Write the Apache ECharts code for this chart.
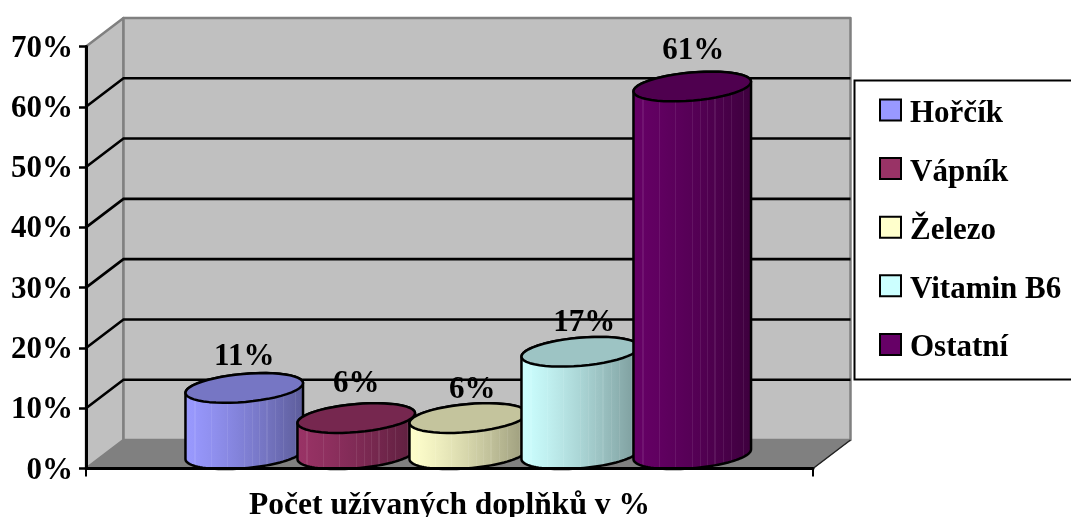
<!DOCTYPE html>
<html>
<head>
<meta charset="utf-8">
<style>html,body{margin:0;padding:0;background:#fff}#chart{width:1071px;height:517px}</style>
<script src="https://cdn.jsdelivr.net/npm/echarts@6/dist/echarts.min.js"></script>
</head>
<body>
<div id="chart"></div>
<script>
// Supplement usage, drawn as cylinders in a pseudo-3D box
const groupLabel = ['Počet užívaných doplňků v %'];
const names = ['Hořčík', 'Vápník', 'Železo', 'Vitamin B6', 'Ostatní'];
const values = [11, 6, 6, 17, 61];
const colors = ['#9999FF', '#993366', '#FFFFCC', '#CCFFFF', '#660066'];
const gridTicks = [10, 20, 30, 40, 50, 60];
const labelLift = [31, 34, 28, 29, 36];
const labelShift = [0, 0, 4, 4, 1];

const FONT = '"Liberation Serif", "Times New Roman", serif';
const DEPTH_X = 37.5, DEPTH_Y = -28.5;      // box depth offset
const STEP = 112, RX = 59, RY = 14, TILT = -5 * Math.PI / 180;
const STRIPES = [0.09, 0.23, 0.36, 0.5, 0.57, 0.63, 0.69, 0.76, 0.83, 0.93];

function rgb(hex) { return [1, 3, 5].map(i => parseInt(hex.substr(i, 2), 16)); }
function css(c) { return 'rgb(' + c.map(v => Math.round(v)).join(',') + ')'; }
function scale(c, k) { return c.map(v => v * k); }
function mix(c, k) { return c.map(v => v + (255 - v) * k); }

// Left-to-right shading with thin light stripes, as a cylinder facet look
function bodyFill(hex) {
  const base = rgb(hex), stops = [];
  const shade = t => scale(base, 1 - 0.4 * Math.pow(t, 1.3));
  stops.push({ offset: 0, color: css(shade(0)) });
  STRIPES.forEach(f => {
    const a = f - 0.005, b = f + 0.005;
    stops.push({ offset: a, color: css(shade(a)) });
    stops.push({ offset: a, color: css(mix(shade(a), 0.08)) });
    stops.push({ offset: b, color: css(mix(shade(b), 0.08)) });
    stops.push({ offset: b, color: css(shade(b)) });
  });
  stops.push({ offset: 1, color: css(shade(1)) });
  return { type: 'linear', x: 0, y: 0, x2: 1, y2: 0, colorStops: stops };
}

function ellipsePoint(cx, cy, t) {
  return [
    cx + RX * Math.cos(t) * Math.cos(TILT) - RY * Math.sin(t) * Math.sin(TILT),
    cy + RX * Math.cos(t) * Math.sin(TILT) + RY * Math.sin(t) * Math.cos(TILT)
  ];
}
function arc(cx, cy, from, to) {
  const pts = [], n = 48;
  for (let i = 0; i <= n; i++) pts.push(ellipsePoint(cx, cy, from + (to - from) * i / n));
  return pts;
}

function cylinder(index) {
  return function (params, api) {
    const cs = params.coordSys;
    const x = cs.x + cs.width / 2 + DEPTH_X / 2 + (index - 2) * STEP;
    const value = api.value(1);
    const baseY = api.coord([0, 0])[1] + DEPTH_Y / 2;
    const topY = api.coord([0, value])[1] + DEPTH_Y / 2;
    const t0 = Math.atan(-(RY / RX) * Math.tan(TILT));
    const rightEdge = t0, leftEdge = t0 + Math.PI;
    const body = arc(x, baseY, rightEdge, leftEdge)
      .concat(arc(x, topY, leftEdge, rightEdge + 2 * Math.PI));
    const line = { stroke: '#000', lineWidth: 2.5, lineJoin: 'round' };
    return {
      type: 'group',
      children: [
        { type: 'polygon', shape: { points: body }, style: Object.assign({ fill: bodyFill(colors[index]) }, line) },
        { type: 'polygon', shape: { points: arc(x, topY, 0, 2 * Math.PI) }, style: Object.assign({ fill: css(scale(rgb(colors[index]), 0.77)) }, line) },
        { type: 'text', style: {
          text: value + '%', x: x + labelShift[index], y: topY - labelLift[index], align: 'center', verticalAlign: 'middle',
          font: 'bold 31px ' + FONT, fill: '#000' }, z2: 50 }
      ]
    };
  };
}

// Side wall, back wall and floor of the box
function renderBox(params, api) {
  const cs = params.coordSys;
  const l = cs.x, r = cs.x + cs.width, b = cs.y + cs.height, t = cs.y;
  const dx = DEPTH_X, dy = DEPTH_Y;
  const edge = { stroke: '#808080', lineWidth: 2.5, lineJoin: 'round' };
  return {
    type: 'group',
    children: [
      { type: 'polygon', shape: { points: [[l, b], [l + dx, b + dy], [l + dx, t + dy], [l, t]] }, style: Object.assign({ fill: '#C0C0C0' }, edge) },
      { type: 'polygon', shape: { points: [[l + dx, b + dy], [r + dx, b + dy], [r + dx, t + dy], [l + dx, t + dy]] }, style: Object.assign({ fill: '#C0C0C0' }, edge) },
      { type: 'polygon', shape: { points: [[l, b], [r, b], [r + dx, b + dy], [l + dx, b + dy]] }, style: { fill: '#808080', stroke: '#808080', lineWidth: 1 } },
      { type: 'line', shape: { x1: r, y1: b, x2: r + dx, y2: b + dy }, style: { stroke: '#222', lineWidth: 1.5 } }
    ]
  };
}

// Gridline running along the side wall and across the back wall
function renderGridline(params, api) {
  const cs = params.coordSys;
  const y = api.coord([0, api.value(1)])[1];
  return {
    type: 'polyline',
    shape: { points: [[cs.x, y], [cs.x + DEPTH_X, y + DEPTH_Y], [cs.x + cs.width + DEPTH_X, y + DEPTH_Y]] },
    style: { stroke: '#000', lineWidth: 2.6, fill: null }
  };
}

const chart = echarts.init(document.getElementById('chart'), null, { renderer: 'canvas' });
chart.setOption({
  animation: false,
  backgroundColor: '#fff',
  tooltip: { show: false },
  grid: { left: 86, right: 258, top: 46.5, bottom: 48.5, containLabel: false, outerBoundsMode: 'none' },
  xAxis: {
    type: 'category',
    data: groupLabel,
    z: 20,
    axisLine: { lineStyle: { color: '#000', width: 3 } },
    axisTick: { show: true, length: 8, lineStyle: { color: '#000', width: 2 } },
    axisLabel: { margin: 21, color: '#000', fontFamily: FONT, fontWeight: 'bold', fontSize: 31.5 }
  },
  yAxis: {
    type: 'value',
    min: 0, max: 70, interval: 10,
    z: 20,
    splitLine: { show: false },
    axisLine: { show: true, lineStyle: { color: '#000', width: 3 } },
    axisTick: { show: true, length: 7, lineStyle: { color: '#000', width: 2.5 } },
    axisLabel: {
      margin: 13,
      formatter: '{t|{value}%}',
      rich: { t: { color: '#000', fontFamily: FONT, fontWeight: 'bold', fontSize: 31, padding: [4, 0, 0, 0] } }
    }
  },
  legend: {
    data: names,
    orient: 'vertical',
    left: 874, top: 93.5,
    padding: 5,
    itemWidth: 21, itemHeight: 21,
    itemGap: 27.6,
    selectedMode: false,
    icon: 'rect',
    itemStyle: { borderColor: '#000', borderWidth: 2 },
    formatter: '{t|{name}}',
    textStyle: {
      rich: { t: { color: '#000', fontFamily: FONT, fontWeight: 'bold', fontSize: 31, padding: [8, 0, 0, 4] } }
    }
  },
  graphic: [{
    type: 'rect',
    shape: { x: 854.5, y: 80.5, width: 240, height: 299 },
    style: { fill: '#fff', stroke: '#000', lineWidth: 2 },
    z: -1
  }],
  series: [
    { type: 'custom', name: 'box', z: 1, silent: true, data: [[0, 0]], encode: { x: 0, y: 1 }, renderItem: renderBox },
    { type: 'custom', name: 'grid', z: 1.5, silent: true, data: gridTicks.map(v => [0, v]), encode: { x: 0, y: 1 }, renderItem: renderGridline }
  ].concat(names.map((name, i) => ({
    type: 'custom',
    name: name,
    z: 2 + i,
    silent: true,
    itemStyle: { color: colors[i] },
    data: [[0, values[i]]],
    encode: { x: 0, y: 1 },
    renderItem: cylinder(i)
  })))
});
</script>
</body>
</html>
